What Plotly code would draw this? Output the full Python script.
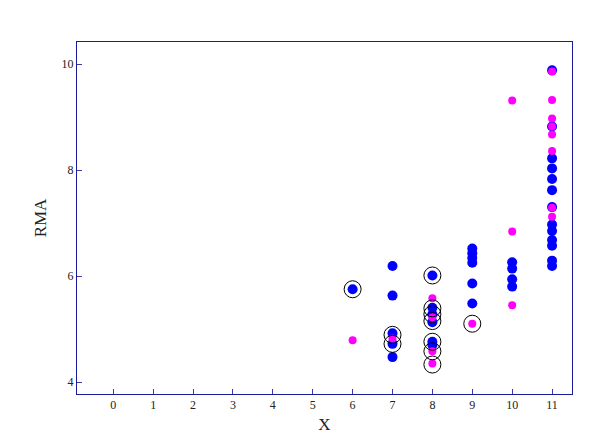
import plotly.graph_objects as go

# Blue series
blue_x = [6,
          7, 7, 7, 7, 7,
          8, 8, 8, 8, 8, 8,
          9, 9, 9, 9, 9, 9,
          10, 10, 10, 10,
          11, 11, 11, 11, 11, 11, 11, 11, 11, 11, 11, 11, 11]
blue_y = [5.75,
          6.19, 5.63, 4.92, 4.72, 4.47,
          6.01, 5.40, 5.28, 5.13, 4.76, 4.70,
          6.52, 6.43, 6.34, 6.25, 5.86, 5.48,
          6.26, 6.14, 5.94, 5.80,
          9.88, 8.82, 8.22, 8.03, 7.83, 7.62, 7.30, 6.97, 6.85, 6.68, 6.57, 6.29, 6.19]

# Magenta series
magenta_x = [6, 7, 8, 8, 8, 8, 9, 10, 10, 10,
             11, 11, 11, 11, 11, 11, 11, 11]
magenta_y = [4.79, 4.82, 5.58, 5.22, 4.58, 4.35, 5.10, 9.31, 6.84, 5.45,
             9.86, 9.32, 8.97, 8.82, 8.67, 8.36, 7.29, 7.12]

# Circled (highlighted) points
circle_x = [6, 7, 7, 8, 8, 8, 8, 8, 8, 8, 9]
circle_y = [5.75, 4.89, 4.72, 6.01, 5.39, 5.28, 5.15, 4.76, 4.58, 4.33, 5.10]

x_ticks = list(range(0, 12))
y_ticks = [4, 6, 8, 10]

fig = go.Figure()
fig.add_trace(go.Scatter(x=blue_x, y=blue_y, mode="markers",
                         marker=dict(color="#0000FF", size=10, line=dict(width=0)),
                         showlegend=False))
fig.add_trace(go.Scatter(x=magenta_x, y=magenta_y, mode="markers",
                         marker=dict(color="#FF00FF", size=8, line=dict(width=0)),
                         showlegend=False))
fig.add_trace(go.Scatter(x=circle_x, y=circle_y, mode="markers",
                         marker=dict(symbol="circle-open", color="#000000", size=17,
                                     line=dict(width=1, color="#000000")),
                         showlegend=False))

axis_common = dict(showline=True, linecolor="#1a1a9a", linewidth=1, mirror=True,
                   ticks="inside", ticklen=5, tickcolor="#3a3ab0", tickwidth=1,
                   showgrid=False, zeroline=False,
                   tickfont=dict(family="Liberation Serif", size=12, color="#222222"))

fig.update_layout(
    width=600, height=442,
    margin=dict(l=69, r=36, t=34, b=56),
    paper_bgcolor="white", plot_bgcolor="white",
    xaxis=dict(range=[-0.91, 11.5], tickvals=x_ticks,
               title=dict(text="X", font=dict(family="Liberation Serif", size=17, color="#222222"),
                          standoff=6),
               **axis_common),
    yaxis=dict(range=[3.774, 10.415], tickvals=y_ticks,
               title=dict(text="RMA", font=dict(family="Liberation Serif", size=17, color="#222222"),
                          standoff=10),
               **axis_common),
)

fig.write_html("out.html")
